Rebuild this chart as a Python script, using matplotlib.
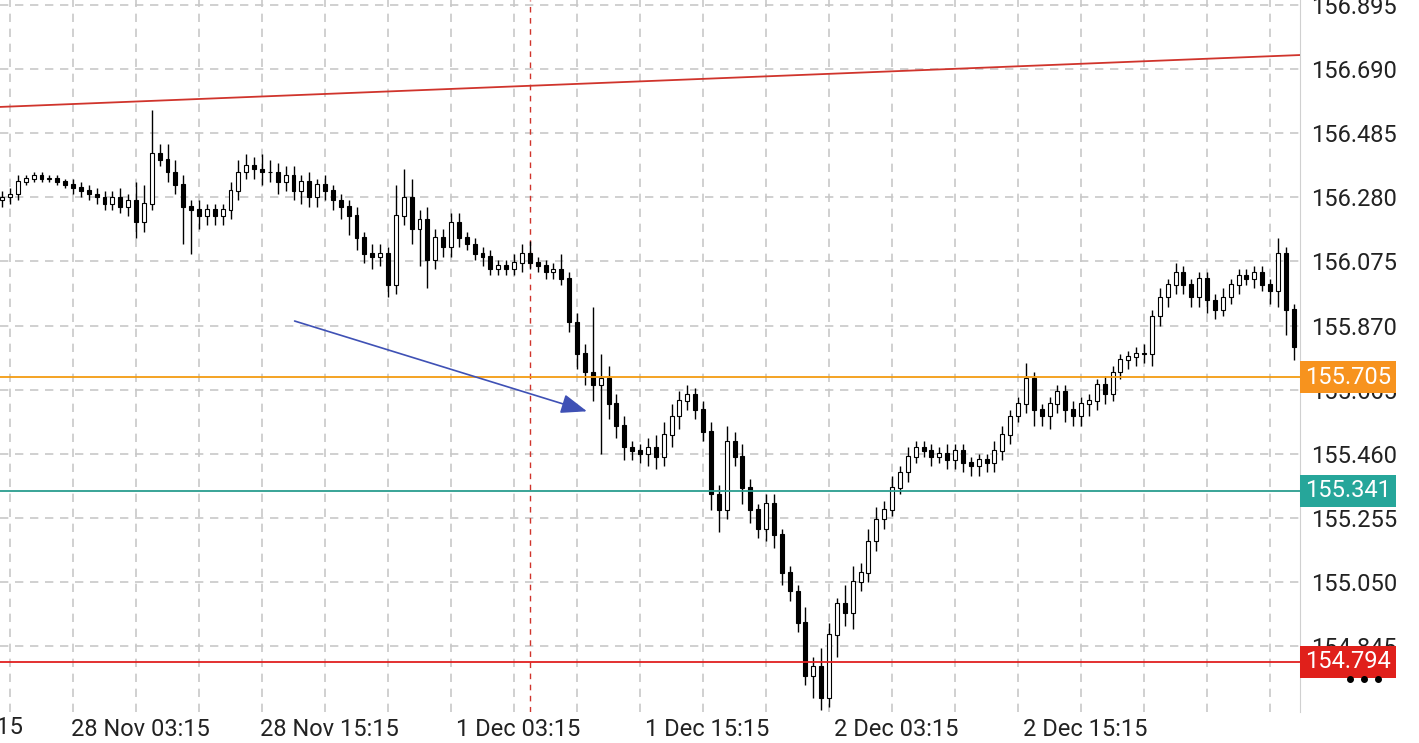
import numpy as np
import matplotlib
matplotlib.use("Agg")
import matplotlib.pyplot as plt

plt.rcParams['font.family'] = ['Roboto', 'DejaVu Sans']

# 30-min closes (bar 0 .. 164)
closes = [
    156.28, 156.29, 156.33, 156.34, 156.35, 156.34, 156.34, 156.33, 156.32, 156.31,
    156.30, 156.29, 156.28, 156.26, 156.28, 156.25, 156.27, 156.20, 156.26, 156.42,
    156.40, 156.36, 156.32, 156.25, 156.24, 156.22, 156.24, 156.22, 156.24, 156.30,
    156.36, 156.38, 156.37, 156.36, 156.36, 156.33, 156.35, 156.30, 156.33, 156.28,
    156.32, 156.30, 156.27, 156.25, 156.22, 156.15, 156.10, 156.09, 156.10, 156.00,
    156.22, 156.28, 156.18, 156.21, 156.08, 156.15, 156.12, 156.20, 156.15, 156.13,
    156.10, 156.09, 156.05, 156.06, 156.05, 156.07, 156.10, 156.07, 156.06, 156.04,
    156.05, 156.02, 155.88, 155.78, 155.72, 155.68, 155.70, 155.62, 155.55, 155.48,
    155.47, 155.46, 155.48, 155.45, 155.52, 155.58, 155.63, 155.65, 155.60, 155.53,
    155.33, 155.28, 155.50, 155.45, 155.35, 155.28, 155.22, 155.30, 155.20, 155.08,
    155.02, 154.92, 154.75, 154.78, 154.68, 154.88, 154.98, 154.95, 155.05, 155.08,
    155.18, 155.25, 155.28, 155.35, 155.40, 155.45, 155.48, 155.47, 155.45, 155.46,
    155.44, 155.47, 155.43, 155.42, 155.44, 155.43, 155.47, 155.52, 155.58, 155.62,
    155.70, 155.60, 155.58, 155.62, 155.66, 155.60, 155.58, 155.62, 155.63, 155.68,
    155.65, 155.72, 155.76, 155.77, 155.78, 155.78, 155.90, 155.96, 156.00, 156.04,
    156.00, 155.96, 156.02, 155.95, 155.92, 155.96, 156.00, 156.03, 156.02, 156.04,
    156.00, 155.98, 156.10, 155.92, 155.80,
]
first_open = 156.27

# wick lengths above / below the body
upper_wick = [
    0.02, 0.02, 0.02, 0.01, 0.01, 0.01, 0.01, 0.01, 0.01, 0.02, 0.02, 0.02, 0.02, 0.02, 0.02,
    0.03, 0.02, 0.06, 0.06, 0.14, 0.03, 0.05, 0.04, 0.03, 0.02, 0.03, 0.02, 0.02, 0.02, 0.03,
    0.04, 0.04, 0.03, 0.05, 0.04, 0.03, 0.03, 0.03, 0.02, 0.03, 0.02, 0.03, 0.02, 0.02, 0.02,
    0.03, 0.02, 0.03, 0.03, 0.02, 0.10, 0.09, 0.06, 0.03, 0.04, 0.03, 0.03, 0.03, 0.03, 0.02,
    0.02, 0.02, 0.02, 0.02, 0.02, 0.03, 0.03, 0.04, 0.02, 0.02, 0.02, 0.05, 0.02, 0.03, 0.03,
    0.21, 0.08, 0.04, 0.03, 0.03, 0.02, 0.02, 0.03, 0.04, 0.04, 0.04, 0.03, 0.03, 0.02, 0.03,
    0.03, 0.03, 0.05, 0.03, 0.04, 0.03, 0.02, 0.03, 0.03, 0.02, 0.02, 0.02, 0.05, 0.03, 0.06,
    0.04, 0.02, 0.06, 0.05, 0.03, 0.04, 0.04, 0.03, 0.04, 0.02, 0.03, 0.02, 0.02, 0.02, 0.02,
    0.03, 0.02, 0.02, 0.02, 0.02, 0.02, 0.03, 0.03, 0.02, 0.02, 0.05, 0.02, 0.02, 0.02, 0.02,
    0.02, 0.03, 0.02, 0.02, 0.02, 0.03, 0.02, 0.02, 0.02, 0.02, 0.03, 0.02, 0.03, 0.02, 0.03,
    0.02, 0.02, 0.02, 0.02, 0.02, 0.03, 0.02, 0.02, 0.02, 0.02, 0.02, 0.02, 0.05, 0.02, 0.02,
]
lower_wick = [
    0.02, 0.02, 0.02, 0.01, 0.01, 0.01, 0.01, 0.01, 0.01, 0.02, 0.02, 0.02, 0.02, 0.02, 0.02,
    0.02, 0.03, 0.05, 0.03, 0.02, 0.02, 0.03, 0.03, 0.12, 0.14, 0.04, 0.03, 0.03, 0.03, 0.03,
    0.03, 0.02, 0.03, 0.04, 0.03, 0.04, 0.03, 0.03, 0.04, 0.03, 0.03, 0.03, 0.03, 0.04, 0.06,
    0.04, 0.03, 0.04, 0.03, 0.04, 0.03, 0.03, 0.05, 0.12, 0.09, 0.03, 0.03, 0.03, 0.03, 0.02,
    0.02, 0.03, 0.02, 0.02, 0.02, 0.02, 0.03, 0.02, 0.02, 0.02, 0.02, 0.02, 0.03, 0.05, 0.04,
    0.05, 0.22, 0.05, 0.04, 0.04, 0.03, 0.03, 0.04, 0.04, 0.03, 0.04, 0.04, 0.03, 0.03, 0.03,
    0.05, 0.07, 0.03, 0.03, 0.05, 0.04, 0.03, 0.04, 0.04, 0.04, 0.03, 0.03, 0.03, 0.07, 0.04,
    0.03, 0.07, 0.04, 0.05, 0.03, 0.03, 0.03, 0.03, 0.02, 0.02, 0.03, 0.02, 0.02, 0.03, 0.02,
    0.03, 0.03, 0.03, 0.03, 0.03, 0.03, 0.03, 0.03, 0.03, 0.02, 0.03, 0.05, 0.03, 0.04, 0.03,
    0.04, 0.03, 0.03, 0.04, 0.03, 0.03, 0.02, 0.02, 0.03, 0.03, 0.03, 0.04, 0.03, 0.03, 0.03,
    0.03, 0.03, 0.03, 0.04, 0.03, 0.02, 0.02, 0.03, 0.02, 0.03, 0.02, 0.04, 0.05, 0.08, 0.04,
]

price_ticks = [154.845, 155.050, 155.255, 155.460, 155.665, 155.870, 156.075, 156.280, 156.485, 156.690, 156.895]
time_labels = ['27 Nov 15:15', '28 Nov 03:15', '28 Nov 15:15', '1 Dec 03:15', '1 Dec 15:15', '2 Dec 03:15', '2 Dec 15:15']
label_bars = [-6.2, 17.5, 41.5, 65.5, 89.5, 113.5, 137.5]

ask_price, bid_price, low_level = 155.705, 155.341, 154.794
trend_start, trend_end = 156.569, 156.735
arrow_from = (36.8, 155.887)
arrow_to = (74.6, 155.593)
session_bar = 67

closes = np.array(closes)
opens = np.concatenate([[first_open], closes[:-1]])
highs = np.maximum(opens, closes) + np.array(upper_wick)
lows = np.minimum(opens, closes) - np.array(lower_wick)
x = np.arange(len(closes))

fig = plt.figure(figsize=(14.19, 7.43), dpi=100)
ax = fig.add_axes([0, 31 / 743, 1300 / 1419, 712 / 743])

# grid
for p in price_ticks:
    ax.axhline(p, color='#c8c8c8', lw=1.2, ls=(0, (5, 4)), zorder=0)
for b in range(1, 165, 8):
    ax.axvline(b, color='#c8c8c8', lw=1.2, ls=(0, (5, 4)), zorder=0)

# candles
ax.vlines(x, lows, highs, color='black', lw=1, zorder=2)
up = closes >= opens
ax.bar(x[up], (closes - opens)[up] + 0.002, 0.5, bottom=opens[up], color='white', edgecolor='black', lw=0.8, zorder=3)
ax.bar(x[~up], (opens - closes)[~up] + 0.002, 0.5, bottom=closes[~up], color='black', edgecolor='black', lw=0.8, zorder=3)

# drawings
ax.axvline(session_bar, color='#d0342c', lw=1, ls=(0, (4, 4)), zorder=1)
ax.plot([-0.27, 164.8], [trend_start, trend_end], color='#d0342c', lw=1.3, zorder=4)
ax.axhline(ask_price, color='#f39c12', lw=1.3, zorder=4)
ax.axhline(bid_price, color='#2a9d8f', lw=1.3, zorder=4)
ax.axhline(low_level, color='#e02020', lw=1.3, zorder=4)
ax.annotate('', xy=arrow_to, xytext=arrow_from, zorder=5,
            arrowprops=dict(arrowstyle='-|>,head_length=1.6,head_width=0.6', color='#3f51b5', lw=1.2))

# axes styling
for s in ['top', 'left', 'bottom']:
    ax.spines[s].set_visible(False)
ax.spines['right'].set_color('#d0d0d0')
ax.yaxis.tick_right()
ax.set_yticks(price_ticks)
ax.set_yticklabels([f'{p:.3f}' for p in price_ticks])
ax.set_xticks(label_bars[1:])
ax.set_xticklabels(time_labels[1:])
ax.tick_params(length=0, labelsize=17, colors='#222222')
ax.tick_params(axis='y', pad=8)
ax.tick_params(axis='x', pad=4)
ax.set_xlim(-0.27, 164.8)
ax.set_ylim(154.634, 156.911)
# first time label, mostly off the left edge
ax.text(label_bars[0], -0.0055, time_labels[0], transform=ax.get_xaxis_transform(),
        fontsize=17, color='#222222', ha='center', va='top', clip_on=False)

# price tags
for price, col in [(ask_price, '#f7931e'), (bid_price, '#26a69a'), (low_level, '#e0201b')]:
    ax.text(1.004, price, f'{price:.3f}', transform=ax.get_yaxis_transform(), color='white',
            fontsize=17, va='center', ha='left', zorder=10, clip_on=False,
            bbox=dict(boxstyle='square,pad=0.2', fc=col, ec='none'))
fig.lines.append(plt.Line2D([1350 / 1419, 1364 / 1419, 1378 / 1419], [1 - 679 / 743] * 3,
                            transform=fig.transFigure, ls='none', marker='o', ms=4, color='black'))

fig.savefig('out.png', dpi=100)
